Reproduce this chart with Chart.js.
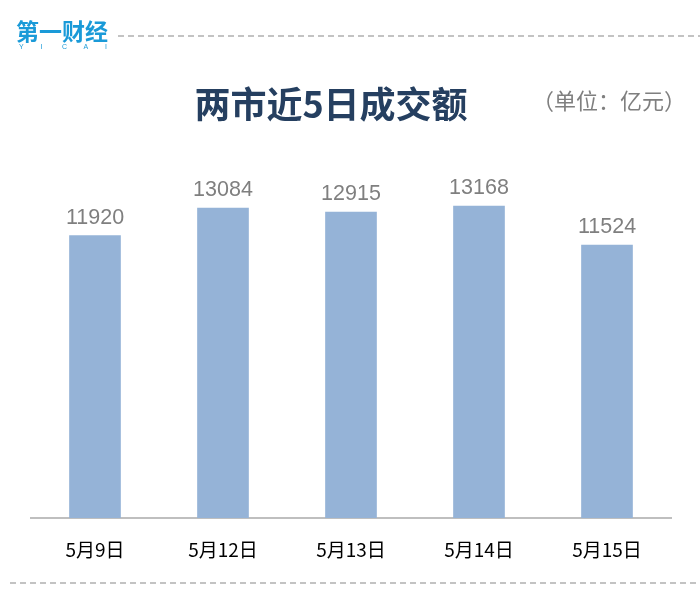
<!DOCTYPE html>
<html>
<head>
<meta charset="utf-8">
<script src="https://cdn.jsdelivr.net/npm/chart.js@4"></script>
<style>
  html, body { margin: 0; padding: 0; background: #fff; }
  #wrap { position: relative; width: 700px; height: 601px; }
</style>
</head>
<body>
<div id="wrap"><canvas id="chart" width="700" height="601"></canvas></div>
<script>
const CJK_FONT = "'Noto Sans CJK SC', 'Noto Sans', sans-serif";
const NUM_FONT = "'Liberation Sans', Arial, sans-serif";

const dates = ["5月9日", "5月12日", "5月13日", "5月14日", "5月15日"];
const turnover = [11920, 13084, 12915, 13168, 11524];
const titleText = "两市近5日成交额";
const unitText = "（单位：亿元）";

// header, dashed rules and value labels
const decor = {
  id: "decor",
  beforeDraw(chart) {
    const ctx = chart.ctx;
    ctx.save();
    ctx.strokeStyle = "#c3c3c3";
    ctx.lineWidth = 2;
    ctx.setLineDash([6, 4]);
    ctx.beginPath();
    ctx.moveTo(118, 36);
    ctx.lineTo(700, 36);
    ctx.moveTo(10, 583);
    ctx.lineTo(700, 583);
    ctx.stroke();
    ctx.setLineDash([]);

    // logo
    ctx.fillStyle = "#1a9ad8";
    ctx.font = "bold 23px " + CJK_FONT;
    ctx.textBaseline = "alphabetic";
    ctx.textAlign = "left";
    ctx.fillText("第一财经", 16, 40);
    ctx.font = "7px " + NUM_FONT;
    const letters = ["Y", "I", "C", "A", "I"];
    letters.forEach((l, i) => ctx.fillText(l, 19 + i * 21.5, 49));

    ctx.fillStyle = "#253f60";
    ctx.font = "bold 36px " + CJK_FONT;
    ctx.textAlign = "center";
    ctx.textBaseline = "middle";
    ctx.fillText(titleText, 331, 104);

    ctx.fillStyle = "#7f7f7f";
    ctx.font = "22px " + CJK_FONT;
    ctx.textAlign = "left";
    ctx.fillText(unitText, 532, 101);
    ctx.restore();
  },
  afterDatasetsDraw(chart) {
    const ctx = chart.ctx;
    const meta = chart.getDatasetMeta(0);
    ctx.save();
    ctx.fillStyle = "#7f7f7f";
    ctx.font = "21.5px " + NUM_FONT;
    ctx.textAlign = "center";
    ctx.textBaseline = "alphabetic";
    meta.data.forEach((bar, i) => {
      ctx.fillText(String(turnover[i]), bar.x, bar.y - 12);
    });
    ctx.restore();
  }
};

new Chart(document.getElementById("chart"), {
  type: "bar",
  data: {
    labels: dates,
    datasets: [{
      data: turnover,
      backgroundColor: "#95b3d7",
      barThickness: 51
    }]
  },
  options: {
    responsive: false,
    animation: false,
    layout: { padding: { left: 31, right: 29, top: 139, bottom: 0 } },
    plugins: { legend: { display: false }, tooltip: { enabled: false } },
    scales: {
      x: {
        grid: { display: false, drawTicks: false },
        border: { color: "#bfbfbf", width: 2 },
        ticks: { color: "#000", font: { family: CJK_FONT, size: 19 }, padding: 20 },
        afterFit(scale) { scale.height = 83; }
      },
      y: {
        display: false,
        min: 0,
        max: 16000
      }
    }
  },
  plugins: [decor]
});
</script>
</body>
</html>
